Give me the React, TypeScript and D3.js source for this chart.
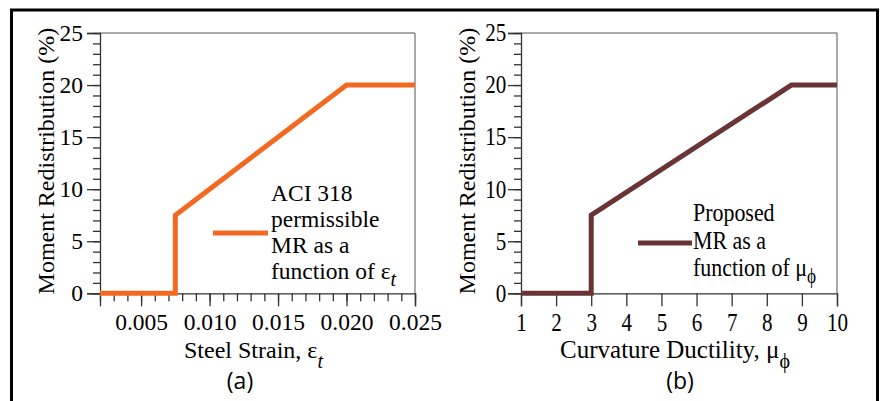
import React, { useEffect, useRef } from 'react'
import * as d3 from 'd3'

// panel (a): ACI 318 permissible moment redistribution vs steel strain
const strainX = [0.002, 0.0075, 0.0075, 0.020, 0.025]
const strainMR = [0, 0, 7.5, 20, 20]
const strainTicks = [0.005, 0.010, 0.015, 0.020, 0.025]
const strainMinor = d3.range(2, 26).map((d) => d / 1000)

// panel (b): proposed moment redistribution vs curvature ductility
const ductX = [1, 3, 3, 8.7, 10]
const ductMR = [0, 0, 7.5, 20, 20]
const ductTicks = [1, 2, 3, 4, 5, 6, 7, 8, 9, 10]

const mrTicks = [0, 5, 10, 15, 20, 25]
const mrMinor = d3.range(0, 26)

const legendA = ['ACI 318', 'permissible', 'MR as a', 'function of ']
const legendB = ['Proposed', 'MR as a', 'function of ']

const W = 883
const H = 401
const SERIF = "'Liberation Serif', 'Times New Roman', serif"

interface Panel {
  left: number
  right: number
  xs: number[]
  ys: number[]
  domain: [number, number]
  ticks: number[]
  minor: number[]
  fmt: (d: number) => string
  color: string
  sx: number
  tickFont: number
  titleFont: number
  legend: string[]
  legendLine: [number, number, number]
  legendText: [number, number, number]
  sym: string
  sub: string
  subItalic: boolean
  xTitle: string
  tag: string
  tagX: number
}

const panels: Panel[] = [
  {
    left: 100, right: 415, xs: strainX, ys: strainMR, domain: [0.002, 0.025],
    ticks: strainTicks, minor: strainMinor, fmt: d3.format('.3f'),
    color: '#F26A22', sx: 1, tickFont: 23.5, titleFont: 24, legend: legendA,
    legendLine: [213, 268, 233], legendText: [271, 201, 26],
    sym: 'ε', sub: 't', subItalic: true, xTitle: 'Steel Strain, ', tag: '(a)', tagX: 240
  },
  {
    left: 521, right: 837, xs: ductX, ys: ductMR, domain: [1, 10],
    ticks: ductTicks, minor: [], fmt: d3.format('d'),
    color: '#6B3434', sx: 0.86, tickFont: 24.5, titleFont: 25, legend: legendB,
    legendLine: [638, 692, 243], legendText: [693, 221, 27.5],
    sym: 'μ', sub: 'ϕ', subItalic: false, xTitle: 'Curvature Ductility, ', tag: '(b)', tagX: 680
  }
]

const TOP = 33
const BOTTOM = 293.3

export default function App () {
  const root = useRef<SVGSVGElement>(null)

  useEffect(() => {
    const svg = d3.select(root.current)
    svg.selectAll('*').remove()

    // outer frame, runs off the bottom of the picture
    svg.append('rect')
      .attr('x', 11.5).attr('y', 10)
      .attr('width', 866).attr('height', 420)
      .attr('fill', 'none').attr('stroke', '#000').attr('stroke-width', 3)

    const y = d3.scaleLinear().domain([0, 25]).range([BOTTOM, TOP])

    panels.forEach((p) => {
      const x = d3.scaleLinear().domain(p.domain).range([p.left, p.right])
      const g = svg.append('g')

      // frame top / right
      g.append('path')
        .attr('d', `M${p.left},${TOP}H${p.right}V${BOTTOM}`)
        .attr('fill', 'none').attr('stroke', '#555').attr('stroke-width', 1)

      // minor ticks
      if (p.minor.length) {
        g.append('g')
          .attr('transform', `translate(0,${BOTTOM})`)
          .call(d3.axisBottom(x).tickValues(p.minor).tickSize(8).tickFormat(() => ''))
          .call((a) => a.select('.domain').remove())
      }
      g.append('g')
        .attr('transform', `translate(${p.left},0)`)
        .call(d3.axisLeft(y).tickValues(mrMinor).tickSize(7).tickFormat(() => ''))
        .call((a) => a.select('.domain').remove())

      // major ticks
      const xa = g.append('g')
        .attr('transform', `translate(0,${BOTTOM})`)
        .call(d3.axisBottom(x).tickValues(p.ticks).tickSize(13).tickPadding(7).tickFormat((d) => p.fmt(d as number)))
      const ya = g.append('g')
        .attr('transform', `translate(${p.left},0)`)
        .call(d3.axisLeft(y).tickValues(mrTicks).tickSize(13).tickPadding(4).tickFormat((d) => String(d)))

      g.selectAll('.tick line').attr('stroke', '#333').attr('stroke-width', 1.3)
      g.selectAll('.domain').attr('stroke', '#333').attr('stroke-width', 1.3)
      g.selectAll('.tick text')
        .attr('font-family', SERIF).attr('font-size', p.tickFont).attr('fill', '#000')
      if (p.sx !== 1) {
        xa.selectAll('.tick text').attr('transform', `scale(${p.sx},1)`)
        ya.selectAll('.tick text').attr('transform', `scale(${p.sx},1)`)
      }

      // the curve
      const pts = p.xs.map((d, i) => [x(d), y(p.ys[i])] as [number, number])
      g.append('path')
        .attr('d', d3.line()(pts))
        .attr('fill', 'none').attr('stroke', p.color)
        .attr('stroke-width', 5).attr('stroke-linejoin', 'miter')

      // legend
      const [l0, l1, ly] = p.legendLine
      g.append('line')
        .attr('x1', l0).attr('x2', l1).attr('y1', ly).attr('y2', ly)
        .attr('stroke', p.color).attr('stroke-width', 5)
      const [tx, ty, step] = p.legendText
      p.legend.forEach((s, i) => {
        const t = g.append('text')
          .attr('transform', `translate(${tx},${ty + i * step}) scale(${p.sx},1)`)
          .attr('font-family', SERIF).attr('font-size', p.sx !== 1 ? 25.5 : 23.5).attr('fill', '#000')
          .text(s)
        if (i === p.legend.length - 1) {
          t.append('tspan').text(p.sym)
          t.append('tspan').attr('dy', 7).attr('font-size', 20)
            .attr('font-style', p.subItalic ? 'italic' : 'normal').text(p.sub)
        }
      })

      // axis titles
      const cx = (p.left + p.right) / 2
      const xt = g.append('text')
        .attr('x', cx - 4).attr('y', 358)
        .attr('text-anchor', 'middle')
        .attr('font-family', SERIF).attr('font-size', p.titleFont).attr('fill', '#000')
        .text(p.xTitle)
      xt.append('tspan').text(p.sym)
      xt.append('tspan').attr('dy', 10).attr('font-size', 20)
        .attr('font-style', p.subItalic ? 'italic' : 'normal').text(p.sub)

      g.append('text')
        .attr('transform', `translate(${p.left - 46},${(TOP + BOTTOM) / 2 - 2}) rotate(-90)`)
        .attr('text-anchor', 'middle')
        .attr('font-family', SERIF).attr('font-size', 24).attr('fill', '#000')
        .text('Moment Redistribution (%)')

      g.append('text')
        .attr('x', p.tagX).attr('y', 389)
        .attr('text-anchor', 'middle')
        .attr('font-family', "'Open Sans', 'Liberation Sans', sans-serif")
        .attr('font-size', 23).attr('fill', '#000')
        .text(p.tag)
    })
  }, [])

  return (
    <div style={{ position: 'absolute', left: 0, top: 0 }}>
      <svg ref={root} width={W} height={H} style={{ display: 'block', background: '#fff' }} />
    </div>
  )
}
